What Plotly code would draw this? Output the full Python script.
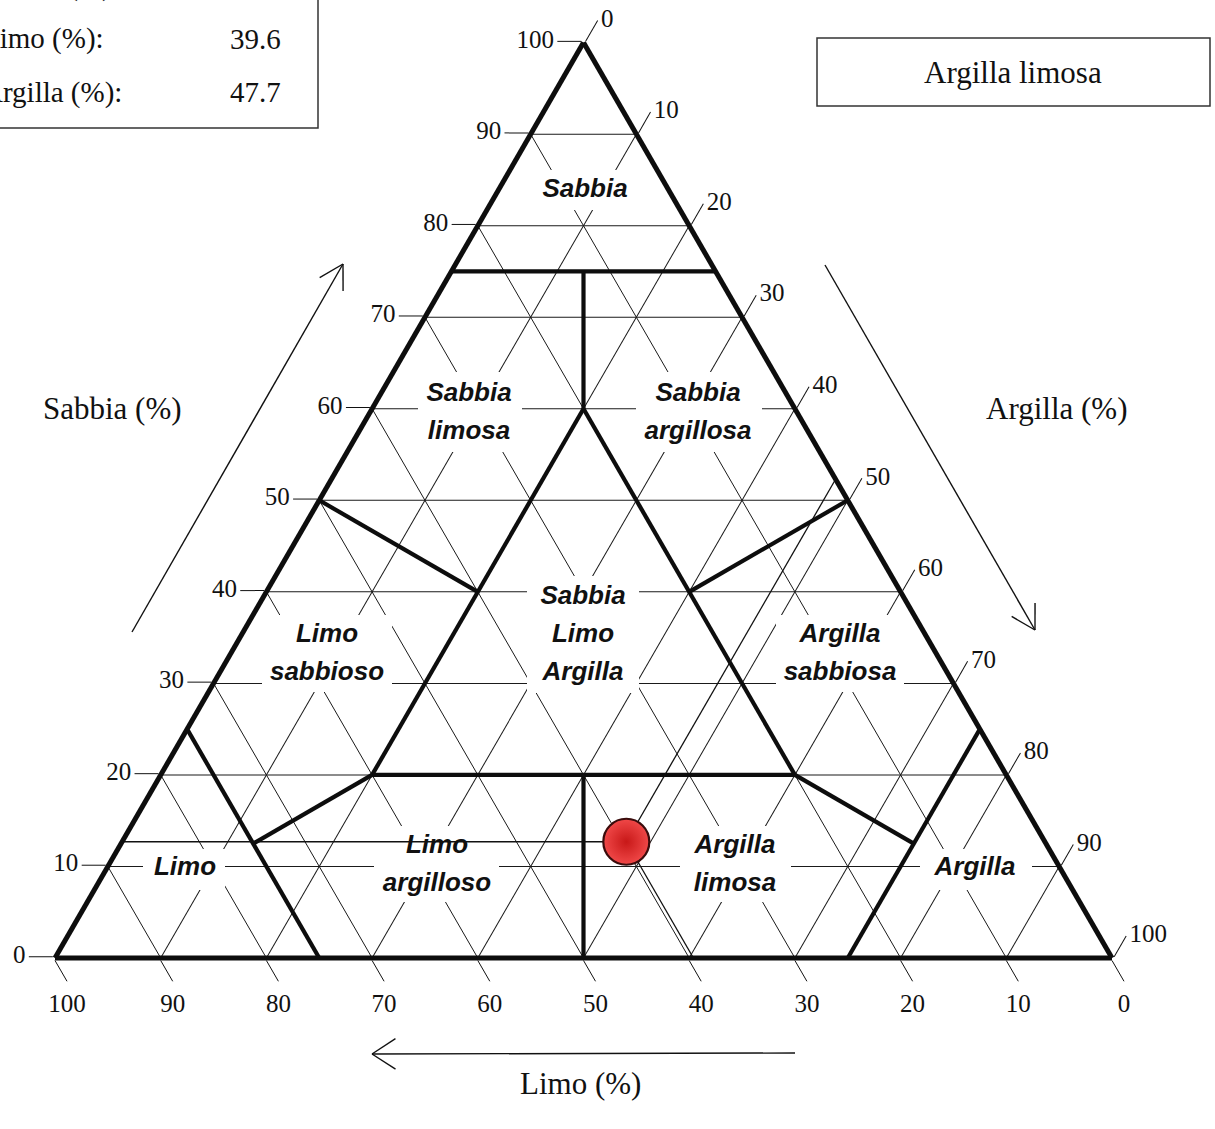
import math
import plotly.graph_objects as go

W, H = 1215, 1129

# ---------------- data ----------------
sample_sabbia = 12.7
sample_limo = 39.6
sample_argilla = 47.7
sample_class = "Argilla limosa"

tick_values = list(range(0, 101, 10))

# class boundary segments (sabbia, limo, argilla) start -> end
seg_sabbia_start = [75, 75, 60, 60, 20, 20, 50, 50, 20, 25, 20, 25]
seg_limo_start = [25, 12.5, 20, 20, 60, 40, 50, 0, 60, 75, 20, 0]
seg_argilla_start = [0, 12.5, 20, 20, 20, 40, 0, 50, 20, 0, 60, 75]
seg_sabbia_end = [75, 60, 20, 20, 20, 0, 40, 40, 12.5, 0, 12.5, 0]
seg_limo_end = [0, 20, 60, 20, 20, 50, 40, 20, 75, 75, 12.5, 25]
seg_argilla_end = [25, 20, 20, 60, 60, 50, 20, 40, 12.5, 25, 75, 75]

class_names = ["Sabbia", "Sabbia<br>limosa", "Sabbia<br>argillosa",
               "Sabbia<br>Limo<br>Argilla", "Limo<br>sabbioso", "Argilla<br>sabbiosa",
               "Limo<br>argilloso", "Argilla<br>limosa", "Limo", "Argilla"]

# ---------------- layout geometry (pixels) ----------------
X0, YB, TW = 55.0, 958.0, 1057.0
TH = TW * math.sqrt(3) / 2

# label centres and white gap boxes (pixel space)
label_centres = [(585, 191), (469, 414), (698, 414), (583, 636), (327, 655),
                 (840, 655), (437, 866), (735, 866), (185, 869), (975, 869)]
label_boxes = [(535, 635, 170, 210), (418, 522, 372, 452), (636, 762, 372, 452),
               (527, 639, 576, 693), (262, 392, 615, 692), (776, 904, 615, 692),
               (374, 499, 826, 902), (680, 791, 826, 902), (143, 225, 849, 890),
               (920, 1032, 849, 890)]
LINE_GAP = 38


def px_to_tern(x, y):
    s = (YB - y) / TH * 100
    c = (x - X0) / TW * 100 - s / 2
    return s, 100 - s - c, c


def P(x, y):
    return x / W, 1 - y / H


fig = go.Figure()

# white gaps behind the class labels (cover the thin grid)
ma, mb, mc = [], [], []
for (x0, x1, y0, y1) in label_boxes:
    for (x, y) in [(x0, y0), (x1, y0), (x1, y1), (x0, y1), (x0, y0)]:
        s, l, c = px_to_tern(x, y)
        ma.append(s); mb.append(l); mc.append(c)
    ma.append(None); mb.append(None); mc.append(None)
fig.add_trace(go.Scatterternary(a=ma, b=mb, c=mc, mode="lines", fill="toself",
                                fillcolor="white", line=dict(width=0, color="white"),
                                hoverinfo="skip"))

# class boundaries
ba, bb, bc = [], [], []
for i in range(len(seg_sabbia_start)):
    ba += [seg_sabbia_start[i], seg_sabbia_end[i], None]
    bb += [seg_limo_start[i], seg_limo_end[i], None]
    bc += [seg_argilla_start[i], seg_argilla_end[i], None]
fig.add_trace(go.Scatterternary(a=ba, b=bb, c=bc, mode="lines",
                                line=dict(color="#0d0d0d", width=4.2), hoverinfo="skip"))

# reading lines from the sample to the three axes
ra = [sample_sabbia, sample_sabbia, None, sample_sabbia, 100 - sample_argilla, None,
      sample_sabbia, 0]
rb = [sample_limo, 100 - sample_sabbia, None, sample_limo, 0, None,
      sample_limo, sample_limo]
rc = [sample_argilla, 0, None, sample_argilla, sample_argilla, None,
      sample_argilla, 100 - sample_limo]
fig.add_trace(go.Scatterternary(a=ra, b=rb, c=rc, mode="lines",
                                line=dict(color="#111111", width=1.3), hoverinfo="skip"))

# class labels (one text item per line)
ta, tb, tc, tt = [], [], [], []
for name, (cx, cy) in zip(class_names, label_centres):
    lines = name.split("<br>")
    n = len(lines)
    for k, ln in enumerate(lines):
        y = cy + (k - (n - 1) / 2) * LINE_GAP
        s, l, c = px_to_tern(cx, y)
        ta.append(s); tb.append(l); tc.append(c); tt.append(ln)
fig.add_trace(go.Scatterternary(a=ta, b=tb, c=tc, mode="text", text=tt,
                                textposition="middle center",
                                textfont=dict(family="Liberation Sans", size=26,
                                              color="#111111", weight="bold",
                                              style="italic"),
                                hoverinfo="skip"))

# sample point
fig.add_trace(go.Scatterternary(a=[sample_sabbia], b=[sample_limo], c=[sample_argilla],
                                mode="markers",
                                marker=dict(size=46, color="#f04848",
                                            gradient=dict(type="radial", color="#c81818"),
                                            line=dict(color="#3a0c0c", width=2.2)),
                                hoverinfo="skip"))

axis_common = dict(
    title=dict(text=""), tickmode="linear", tick0=0, dtick=10, ticks="outside",
    ticklen=24, tickwidth=1.3, tickcolor="#111111", linewidth=5, linecolor="#0d0d0d",
    showgrid=True, gridcolor="#1a1a1a", gridwidth=1.2, min=0,
    tickfont=dict(family="Liberation Serif", size=25, color="#111111"),
)

fig.update_layout(
    width=W, height=H, margin=dict(l=0, r=0, t=0, b=0),
    paper_bgcolor="white", plot_bgcolor="white", showlegend=False,
    ternary=dict(
        sum=100, bgcolor="white",
        domain=dict(x=[X0 / W, (X0 + TW) / W], y=[(H - YB) / H, (H - YB + TH) / H]),
        aaxis=axis_common, baxis=axis_common, caxis=axis_common,
    ),
)

# arrows beside the axes (open heads)
shapes = []


def seg(x0, y0, x1, y1, w=1.4):
    a0 = P(x0, y0); a1 = P(x1, y1)
    shapes.append(dict(type="line", xref="paper", yref="paper", x0=a0[0], y0=a0[1],
                       x1=a1[0], y1=a1[1], line=dict(color="#111111", width=w)))


def arrow(tx, ty, hx, hy, arm=27, ang=30):
    seg(tx, ty, hx, hy)
    bx, by = tx - hx, ty - hy
    L = math.hypot(bx, by)
    bx, by = bx / L, by / L
    for sgn in (1, -1):
        r = math.radians(ang * sgn)
        dx = bx * math.cos(r) - by * math.sin(r)
        dy = bx * math.sin(r) + by * math.cos(r)
        seg(hx, hy, hx + dx * arm, hy + dy * arm)


arrow(132, 632, 343, 264)
arrow(825, 265, 1035, 630)
arrow(795, 1053, 372, 1054, arm=28, ang=33)

# boxes
for (x0, y0, x1, y1) in [(-10, -10, 318, 128), (817, 38, 1210, 106)]:
    a0 = P(x0, y0); a1 = P(x1, y1)
    shapes.append(dict(type="rect", xref="paper", yref="paper", x0=a0[0], y0=a1[1],
                       x1=a1[0], y1=a0[1], line=dict(color="#333333", width=1.5),
                       fillcolor="rgba(0,0,0,0)"))
fig.update_layout(shapes=shapes)

serif = dict(family="Liberation Serif", color="#111111")
annotations = []


def text(x, y, s, size, xanchor="center"):
    px, py = P(x, y)
    annotations.append(dict(x=px, y=py, xref="paper", yref="paper", text=s,
                            showarrow=False, xanchor=xanchor, yanchor="middle",
                            font=dict(size=size, **serif)))


text(112, 408, "Sabbia (%)", 31)
text(1056, 408, "Argilla (%)", 31)
text(580, 1083, "Limo (%)", 31)
text(1013, 72, sample_class, 31)

row_names = ["Sabbia (%):", "Limo (%):", "Argilla (%):"]
row_vals = [sample_sabbia, sample_limo, sample_argilla]
for i, (nm, v) in enumerate(zip(row_names, row_vals)):
    y = -14 + 53 * i
    text(-20, y, nm, 29, xanchor="left")
    text(283, y, f"{v:.1f}", 29, xanchor="right")
fig.update_layout(annotations=annotations)

fig.write_html("out.html", config={"displayModeBar": False},
               post_script="document.body.style.margin='0px';")
